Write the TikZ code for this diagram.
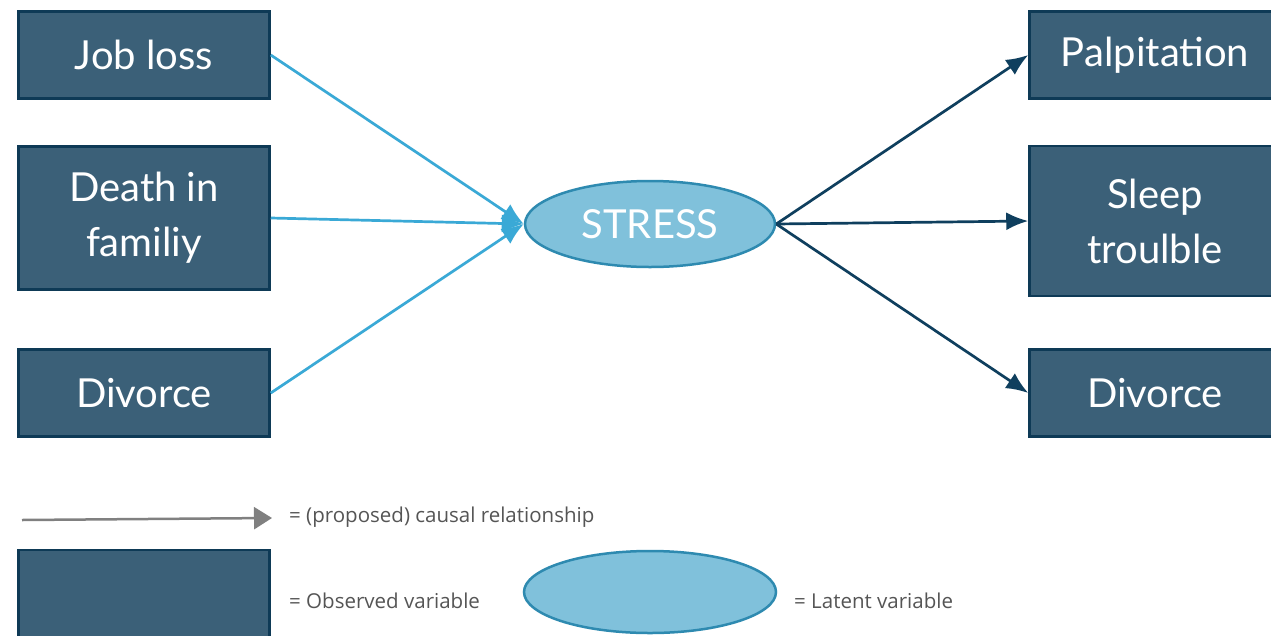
\documentclass[tikz,border=0pt]{standalone}
\usepackage{fontspec}
\setmainfont{Lato}
\newfontfamily\legendfont{Open Sans}
\usetikzlibrary{arrows.meta,shapes.geometric}
\definecolor{boxfill}{HTML}{3B6078}
\definecolor{boxline}{HTML}{0E3A56}
\definecolor{ellfill}{HTML}{80C1DB}
\definecolor{ellline}{HTML}{2E8AB0}
\definecolor{inarrow}{HTML}{3AA9D6}
\definecolor{outarrow}{HTML}{0F3F5E}
\definecolor{legtext}{HTML}{555555}
\definecolor{legarrow}{HTML}{808080}
\tikzset{
  obsbox/.style={draw=boxline, fill=boxfill, line width=2.5pt, minimum width=251pt, minimum height=87pt, inner sep=0pt, text=white, font=\fontsize{40}{55}\selectfont, align=center},
  latent/.style={ellipse, draw=ellline, fill=ellfill, line width=2.5pt, minimum width=250pt, minimum height=86pt, inner sep=0pt, text=white, font=\fontsize{40}{46}\selectfont},
  inflow/.style={draw=inarrow, line width=2.7pt, -{Latex[length=22pt,width=18pt]}},
  outflow/.style={draw=outarrow, line width=2.7pt, -{Latex[length=22pt,width=18pt]}},
  legendlabel/.style={anchor=west, inner sep=0pt, text=legtext, font=\legendfont\fontsize{20.5}{24}\selectfont},
}
\begin{document}
\begin{tikzpicture}[x=1pt,y=-1pt]
\useasboundingbox (0,0) rectangle (1271,635);
\fill[white] (0,0) rectangle (1271,635);
% observed variables (left)
\node[obsbox] (job) at (144,55) {Job loss};
\node[obsbox, minimum height=143pt] (death) at (144,218) {Death in\\familiy};
\node[obsbox] (divl) at (144,393) {Divorce};
% latent
\node[latent] (stress) at (650,224) {STRESS};
% observed variables (right)
\node[obsbox] (palp) at (1155,55) {Palpitation};
\node[obsbox, minimum height=150pt] (sleep) at (1155,221) {Sleep\\troulble};
\node[obsbox] (divr) at (1155,393) {Divorce};
% arrows in
\draw[inflow] (job.east) -- (stress.west);
\draw[inflow] (death.east) -- (stress.west);
\draw[inflow] (divl.east) -- (stress.west);
% arrows out
\draw[outflow] (stress.east) -- (palp.west);
\draw[outflow] (stress.east) -- (sleep.west);
\draw[outflow] (stress.east) -- (divr.west);
% legend
\coordinate (la) at (22,520);
\coordinate (lb) at (272,518);
\draw[draw=legarrow, line width=2.5pt, -{Triangle[length=18pt,width=22pt]}] (la) -- (lb);
\node[legendlabel] (lt1) at (289,517) {= (proposed) causal relationship};
\node[obsbox, minimum height=90pt] (legbox) at (144,595) {};
\node[legendlabel] (lt2) at (289,601) {= Observed variable};
\node[latent, minimum width=252pt, minimum height=82pt] (legell) at (650,592) {};
\node[legendlabel] (lt3) at (794,601) {= Latent variable};
\end{tikzpicture}
\end{document}
